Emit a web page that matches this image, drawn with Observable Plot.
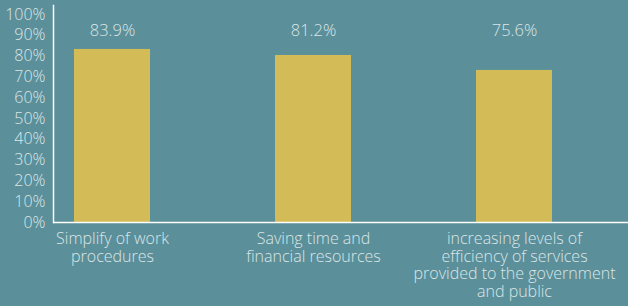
<!DOCTYPE html>
<html>
<head>
<meta charset="utf-8">
<script src="https://cdn.jsdelivr.net/npm/d3@7"></script>
<script src="https://cdn.jsdelivr.net/npm/@observablehq/plot@0.6"></script>
<style>
  html, body { margin: 0; padding: 0; background: #5b8f99; }
  #chart svg { display: block; }
</style>
</head>
<body>
<div id="chart"></div>
<script>
const categories = [
  "Simplify of work\nprocedures",
  "Saving time and\nfinancial resources",
  "increasing levels of\nefficiency of services\nprovided to the government\nand public"
];
const barValues = [83.2, 80.3, 73.1];
const valueLabels = ["83.9%", "81.2%", "75.6%"];
const yTicks = [0, 10, 20, 30, 40, 50, 60, 70, 80, 90, 100];

const data = categories.map((c, i) => ({category: c, value: barValues[i], label: valueLabels[i]}));

const textColor = "#dce6e8";
const font = "'Open Sans', 'DejaVu Sans', sans-serif";

const chart = Plot.plot({
  width: 628,
  height: 306,
  marginLeft: 53,
  marginRight: 0,
  marginTop: 5,
  marginBottom: 84,
  style: {background: "#5b8f99", color: textColor, fontFamily: font, fontWeight: 300},
  x: {domain: categories, range: [73, 552], paddingInner: 0.623, paddingOuter: 0},
  y: {domain: [0, 100], range: [222, 14]},
  marks: [
    Plot.barY(data, {x: "category", y: "value", fill: "#d3bb57"}),
    Plot.text(data, {x: "category", text: "label", frameAnchor: "top", lineAnchor: "middle", dy: 25, fontSize: 16.5, fill: textColor}),
    Plot.axisY({ticks: yTicks, tickFormat: d => d + "%", tickSize: 0, tickPadding: 8, fontSize: 16, label: null}),
    Plot.axisX({tickSize: 0, tickPadding: 9, fontSize: 16, lineHeight: 1.1, label: null}),
    Plot.frame({anchor: "left", stroke: "white", strokeWidth: 1.5}),
    Plot.ruleY([0], {stroke: "white", strokeWidth: 1.5})
  ]
});
document.getElementById("chart").append(chart);
</script>
</body>
</html>
